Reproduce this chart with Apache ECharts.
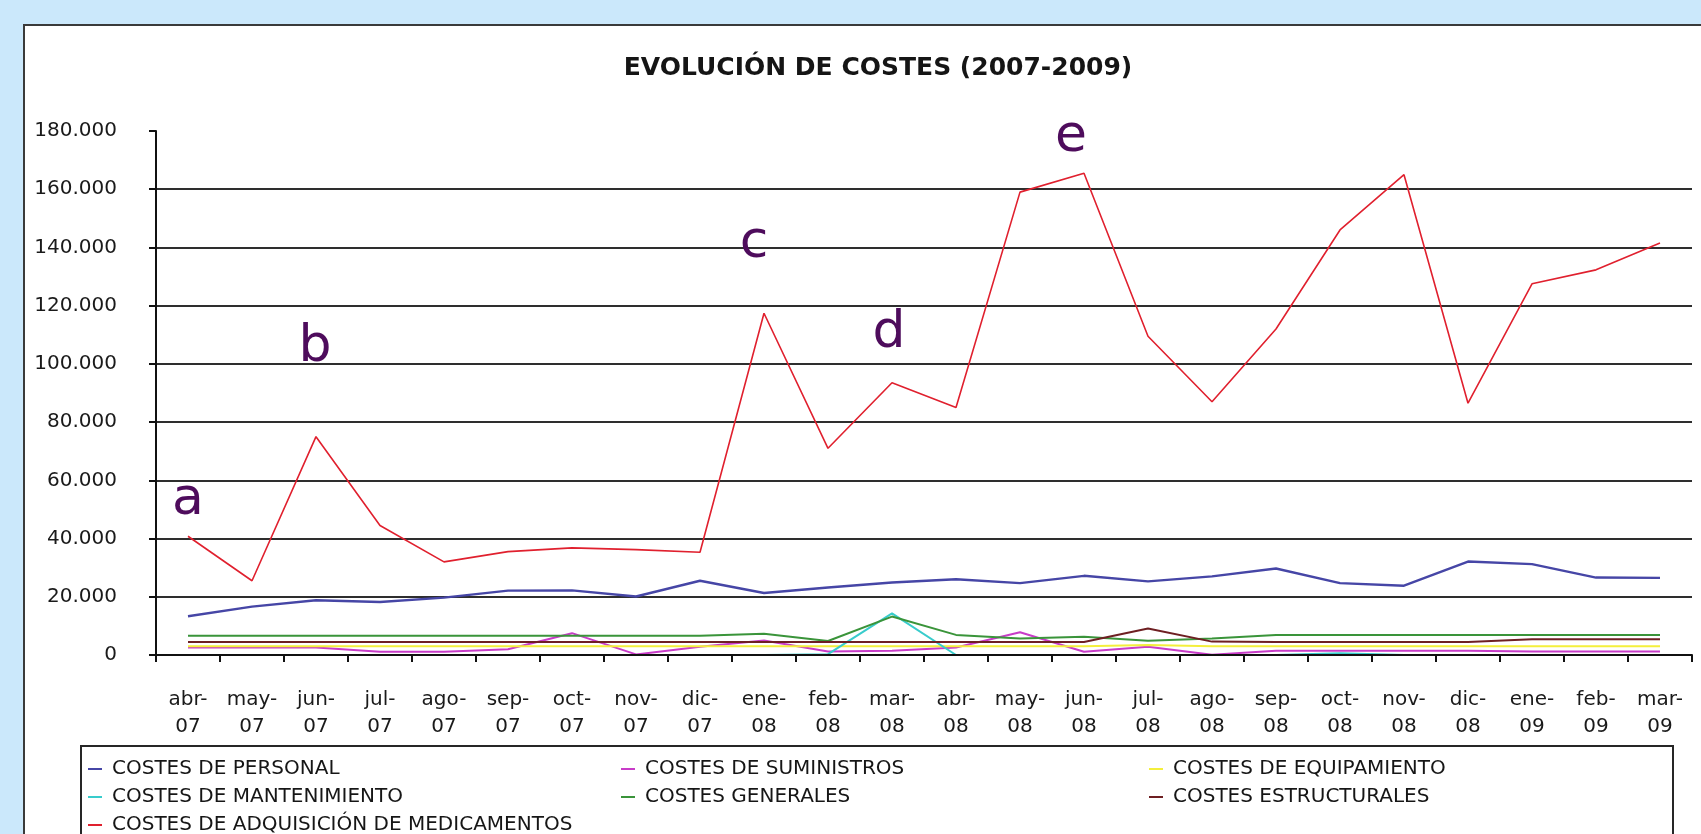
<!DOCTYPE html>
<html>
<head>
<meta charset="utf-8">
<script src="https://cdn.jsdelivr.net/npm/echarts@6/dist/echarts.min.js"></script>
<style>
html,body{margin:0;padding:0;background:#cbe8fb;}
#chart{width:1701px;height:834px;}
</style>
</head>
<body>
<div id="chart"></div>
<script>
// ---- Data ----
const months = ['abr-07','may-07','jun-07','jul-07','ago-07','sep-07','oct-07','nov-07','dic-07',
  'ene-08','feb-08','mar-08','abr-08','may-08','jun-08','jul-08','ago-08','sep-08','oct-08','nov-08','dic-08',
  'ene-09','feb-09','mar-09'];
const yTicks = [0, 20000, 40000, 60000, 80000, 100000, 120000, 140000, 160000, 180000];

const personal      = [13300,16600,18800,18200,19700,22100,22200,20100,25500,21300,23200,24900,26000,24700,27200,25300,27000,29700,24700,23800,32100,31200,26600,26500];
const suministros   = [2600,2600,2600,1100,1100,2000,7500,200,2800,5000,1200,1500,2600,7800,1100,2800,100,1500,1500,1500,1500,1200,1200,1200];
const equipamiento  = [3000,3000,3000,3000,3000,3000,3000,3000,3000,3000,3000,3000,3000,3000,3000,3400,3000,3000,3000,3000,3000,3000,3000,3000];
const mantenimiento = [0,0,0,0,0,0,0,0,0,0,300,14300,0,0,0,0,0,0,600,0,0,0,0,0];
const generales     = [6600,6600,6600,6600,6600,6600,6600,6600,6600,7300,4800,13200,6900,5700,6300,4900,5700,6900,6900,6900,6900,6900,6900,6900];
const estructurales = [4500,4500,4500,4500,4500,4500,4500,4500,4500,4500,4500,4500,4500,4500,4500,9100,4600,4500,4500,4500,4500,5400,5400,5400];
const medicamentos  = [40800,25500,75000,44500,32000,35500,36800,36200,35300,117400,71000,93500,85000,159000,165500,109500,87000,112000,146000,165000,86500,127500,132300,141500];

const seriesNames = ['COSTES DE PERSONAL','COSTES DE SUMINISTROS','COSTES DE EQUIPAMIENTO',
  'COSTES DE MANTENIMIENTO','COSTES GENERALES','COSTES ESTRUCTURALES','COSTES DE ADQUISICIÓN DE MEDICAMENTOS'];

// annotation letters on the medicamentos curve
const annotLetters = ['a','b','c','d','e'];
const annotMonths  = ['abr-07','jun-07','ene-08','mar-08','jun-08'];
const annotLevels  = [53200, 105500, 141500, 110300, 177900];

// ---- Styling ----
const FONT = 'DejaVu Sans';
const colors = ['#4646a6','#c83cc8','#f4ef3c','#38cccc','#3a943a','#6e1f22','#e0202e'];
const lineWidths = [2.4, 2, 2, 2, 2, 2, 1.6];
const values = [personal, suministros, equipamiento, mantenimiento, generales, estructurales, medicamentos];
const annotDx = [0, -1, -10, -3, -13];

// legend grid: series index -> [column, row]
const legendSlots = [[0,0],[1,0],[2,0],[0,1],[1,1],[2,1],[0,2]];
const legendColX = [88, 621, 1149];
const legendRowTop = [758, 786, 814];

const fmt = v => String(v).replace(/\B(?=(\d{3})+(?!\d))/g, '.');

const series = seriesNames.map((name, i) => {
  const s = {
    name: name,
    type: 'line',
    data: values[i],
    showSymbol: false,
    symbol: 'none',
    smooth: false,
    lineStyle: { color: colors[i], width: lineWidths[i] },
    itemStyle: { color: colors[i] },
    emphasis: { disabled: true },
    z: 3 + i
  };
  if (i === 6) {
    s.markPoint = {
      symbol: 'circle',
      symbolSize: 0,
      silent: true,
      label: {
        show: true,
        position: 'inside',
        formatter: p => p.name,
        color: '#4e0c5c',
        fontFamily: FONT,
        fontSize: 52
      },
      data: annotLetters.map((l, k) => ({
        name: l,
        coord: [annotMonths[k], annotLevels[k]],
        label: { offset: [annotDx[k], 0] }
      }))
    };
  }
  return s;
});

const legends = seriesNames.map((name, i) => ({
  orient: 'horizontal',
  left: legendColX[legendSlots[i][0]],
  top: legendRowTop[legendSlots[i][1]],
  padding: 0,
  itemWidth: 14,
  itemHeight: 2,
  icon: 'rect',
  selectedMode: false,
  data: [name],
  textStyle: { fontFamily: FONT, fontSize: 20, color: '#161616', lineHeight: 22, padding: [0,0,0,5] }
}));

const chart = echarts.init(document.getElementById('chart'), null, { renderer: 'canvas' });
chart.setOption({
  backgroundColor: '#cbe8fb',
  animation: false,
  color: colors,
  title: {
    text: 'EVOLUCIÓN DE COSTES (2007-2009)',
    left: 873,
    textAlign: 'center',
    top: 51,
    textStyle: { fontFamily: FONT, fontWeight: 'bold', fontSize: 25, color: '#151515' }
  },
  graphic: [
    { type: 'rect', z: -10, silent: true,
      shape: { x: 24, y: 25, width: 1700, height: 900 },
      style: { fill: '#ffffff', stroke: '#3a3a3a', lineWidth: 2 } },
    { type: 'rect', z: 1, silent: true,
      shape: { x: 81, y: 746, width: 1592, height: 200 },
      style: { fill: 'none', stroke: '#262626', lineWidth: 2 } }
  ],
  legend: legends,
  grid: { left: 156, right: 9, top: 131, bottom: 179, containLabel: false },
  xAxis: {
    type: 'category',
    data: months,
    boundaryGap: true,
    z: 20,
    axisLine: { show: true, lineStyle: { color: '#111', width: 2 } },
    axisTick: { show: true, interval: 0, length: 7, lineStyle: { color: '#111', width: 2 } },
    axisLabel: {
      interval: 0,
      margin: 31,
      fontFamily: FONT,
      fontSize: 20,
      lineHeight: 27,
      color: '#1a1a1a',
      formatter: v => v.replace('-', '-\n')
    },
    splitLine: { show: false }
  },
  yAxis: {
    type: 'value',
    min: yTicks[0],
    max: yTicks[yTicks.length - 1],
    interval: yTicks[1] - yTicks[0],
    axisLine: { show: true, lineStyle: { color: '#111', width: 2 } },
    axisTick: { show: true, length: 7, lineStyle: { color: '#111', width: 2 } },
    axisLabel: {
      margin: 39,
      fontFamily: FONT,
      fontSize: 20,
      color: '#1a1a1a',
      formatter: v => fmt(v)
    },
    splitLine: { show: true, showMaxLine: false, lineStyle: { color: '#2e2e2e', width: 2 } }
  },
  series: series
});
</script>
</body>
</html>
